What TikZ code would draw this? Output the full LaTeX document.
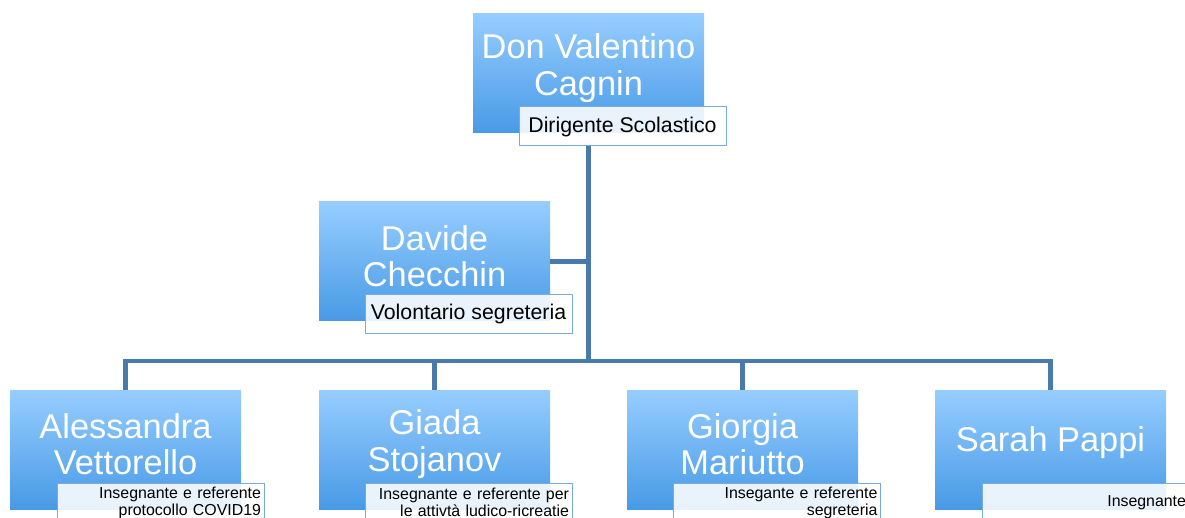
\documentclass[tikz,border=0pt]{standalone}
\usepackage{fontspec}
\setmainfont{Liberation Sans}
\definecolor{gtop}{RGB}{150,205,255}
\definecolor{gbot}{RGB}{72,154,230}
\definecolor{lineblue}{RGB}{72,122,172}
\definecolor{roleborder}{RGB}{120,170,222}
\tikzset{
  namebox/.style={rectangle, minimum width=231pt, minimum height=119pt, inner sep=0pt,
    top color=gtop, bottom color=gbot, draw=none},
  nametext/.style={text=white, align=center, inner sep=0pt,
    font=\fontsize{34.4}{36.5}\selectfont},
  rolebox/.style={rectangle, minimum width=207pt, minimum height=39pt, inner sep=3pt,
    draw=roleborder, line width=1pt, fill=white, fill opacity=0.88, text opacity=1,
    font=\fontsize{21.3}{24}\selectfont},
  smallrole/.style={rolebox, text width=201pt, align=right,
    font=\fontsize{15.9}{17}\selectfont},
  conn/.style={draw=lineblue, line width=4.8pt}
}
\begin{document}
\begin{tikzpicture}[x=1pt,y=-1pt]
\useasboundingbox (0,0) rectangle (1185,518);
% boxes
\node[namebox] (dvc) at (588.5,73.5) {};
\node[namebox] (dc) at (434.5,261.5) {};
\node[namebox] (av) at (125.5,449.5) {};
\node[namebox] (gs) at (434.5,449.5) {};
\node[namebox] (gm) at (742.5,449.5) {};
\node[namebox] (sp) at (1050.5,449.5) {};
% hub
\coordinate (hub) at (588.5,361);
% connectors
\draw[conn] (dvc.south |- 0,146) -- (hub);
\draw[conn] (dc.east) -- (dc.east -| hub);
\draw[conn] (av.north) |- (hub);
\draw[conn] (sp.north) |- (hub);
\draw[conn] (gs.north) -- (gs.north |- hub);
\draw[conn] (gm.north) -- (gm.north |- hub);
% names
\node[nametext] (dvcname) at (588.5,68) {Don Valentino\\Cagnin};
\node[nametext] (dcname) at (434.5,256) {Davide\\Checchin};
\node[nametext] (avname) at (125.5,444) {Alessandra\\Vettorello};
\node[nametext] (gsname) at (434.5,444) {Giada\\Stojanov};
\node[nametext] (gmname) at (742.5,444) {Giorgia\\Mariutto};
\node[nametext] (spname) at (1050.5,443) {Sarah Pappi};
% roles
\node[rolebox] (dvcrole) at (622.5,126.5) {Dirigente Scolastico};
\node[rolebox] (dcrole) at (468.5,314) {Volontario segreteria};
\node[smallrole] (avrole) at (160.5,502.5) {Insegnante e referente\\protocollo COVID19};
\node[smallrole] (gsrole) at (468.5,502.5) {Insegnante e referente per\\le attivtà ludico-ricreatie};
\node[smallrole] (gmrole) at (777,502.5) {Insegante e referente\\segreteria};
\node[smallrole] (sprole) at (1085.5,502.5) {Insegnante};
\end{tikzpicture}
\end{document}
